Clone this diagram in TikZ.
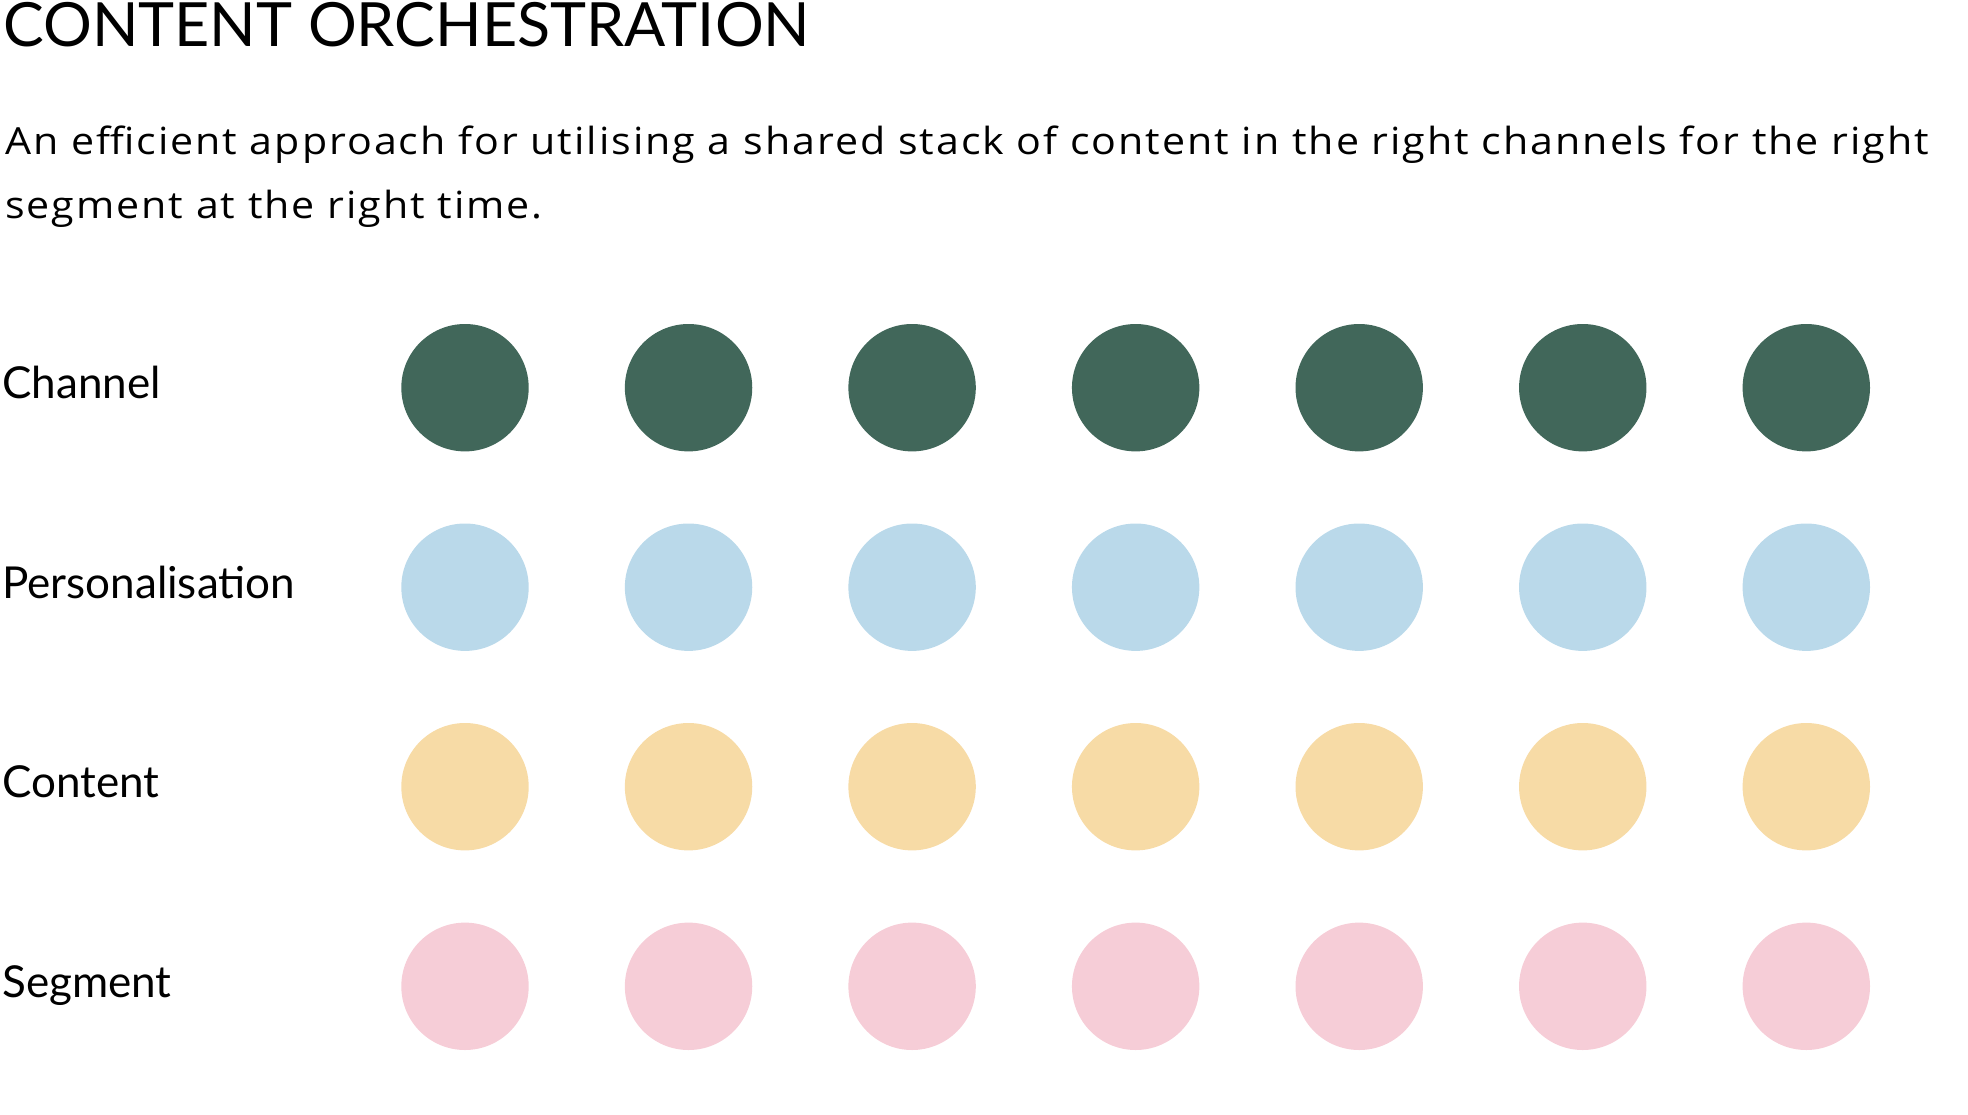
\documentclass[tikz,border=0pt]{standalone}
\usepackage{fontspec}
\setmainfont{Lato}
\newfontfamily\titlefont{Lato}
\newfontfamily\subfont[FakeStretch=1.1,LetterSpace=5.3]{Open Sans}
\definecolor{chgreen}{RGB}{65,103,90}
\definecolor{perblue}{RGB}{186,217,234}
\definecolor{conyellow}{RGB}{247,219,166}
\definecolor{segpink}{RGB}{246,205,215}
\tikzset{
  dot/.style={circle, inner sep=0pt, minimum size=127.4pt, draw=none},
  rowlabel/.style={anchor=base west, inner sep=0pt, font=\fontsize{44}{44}\selectfont},
}
\begin{document}
\begin{tikzpicture}[x=1pt,y=-1pt]
\useasboundingbox (0,0) rectangle (1968,1114);
\node[anchor=base west, inner sep=0pt, font=\titlefont\fontsize{61}{61}\selectfont] (title) at (3,46.7) {CONTENT ORCHESTRATION};
\node[anchor=base west, inner sep=0pt, align=left, font=\subfont\fontsize{37.4}{64}\selectfont] (sub) at (5,218.3) {An efficient approach for utilising a shared stack of content in the right channels for the right\\segment at the right time.};
\node[rowlabel] (lchannel) at (2,398.3) {Channel};
\node[rowlabel] (lpers) at (2,598.3) {Personalisation};
\node[rowlabel] (lcontent) at (2,797.8) {Content};
\node[rowlabel] (lsegment) at (2,997.3) {Segment};
\foreach \k in {0,...,6}{
  \node[dot, fill=chgreen] (ch\k) at (465+223.55*\k, 387.7) {};
  \node[dot, fill=perblue] (pe\k) at (465+223.55*\k, 587.2) {};
  \node[dot, fill=conyellow] (co\k) at (465+223.55*\k, 786.7) {};
  \node[dot, fill=segpink] (se\k) at (465+223.55*\k, 986.3) {};
}
\end{tikzpicture}
\end{document}
